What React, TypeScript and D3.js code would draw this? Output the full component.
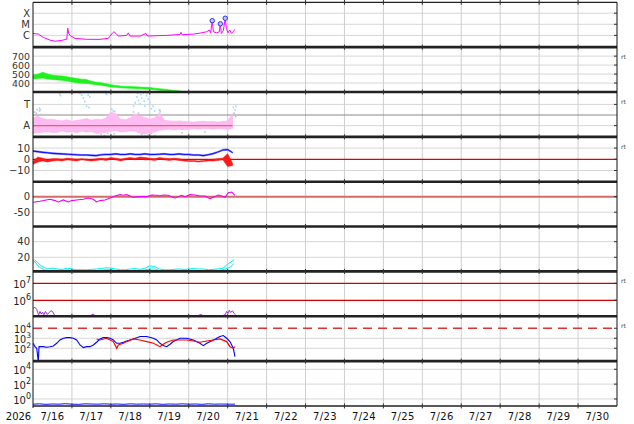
import * as d3 from "d3";

const WIDTH = 634;
const HEIGHT = 424;
const LEFT = 33;
const RIGHT = 617;
const TOP = 2.3;
const PANEL_H = 44.85;
const NPANELS = 9;

const START = Date.UTC(2026, 6, 16);
const END = Date.UTC(2026, 6, 31);

const yearLabel = "2026";
const dayLabels = ["7/16", "7/17", "7/18", "7/19", "7/20", "7/21", "7/22", "7/23", "7/24", "7/25", "7/26", "7/27", "7/28", "7/29", "7/30"];

// common 3-hourly grid (hours after 7/16 00:00 UTC)
const hours3 = [0, 3, 6, 9, 12, 15, 18, 21, 24, 27, 30, 33, 36, 39, 42, 45, 48, 51, 54, 57, 60, 63, 66, 69, 72, 75, 78, 81, 84, 87, 90, 93, 96, 99, 102, 105, 108, 111, 114, 117, 120, 123];

// panel 1: x-ray flux
const xrayHours = [0, 3.3, 6.4, 10.5, 13.6, 17.7, 20.8, 21.4, 22, 23.2, 25.9, 33, 41.3, 46.4, 49.1, 49.9, 51.2, 52.6, 57.8, 58.8, 59.8, 66, 69.7, 70.5, 82.4, 90.6, 91.2, 92, 98.8, 103, 107, 108.7, 109.5, 110.5, 111.2, 113.2, 114.8, 115.5, 116.1, 117.3, 118.5, 119.2, 120.2, 121.3, 122.3, 123.3, 124.5];
const xrayFlux = [1.5e-6, 1.3e-6, 6.6e-7, 3.7e-7, 3.0e-7, 3.5e-7, 4.6e-7, 4.4e-6, 1.5e-6, 8.7e-7, 5.4e-7, 4.4e-7, 4.4e-7, 5.4e-7, 1.7e-6, 2.1e-6, 1.5e-6, 8.7e-7, 1.0e-6, 1.7e-6, 8.7e-7, 8.7e-7, 1.5e-6, 8.7e-7, 1.0e-6, 1.2e-6, 1.9e-6, 1.15e-6, 1.3e-6, 1.6e-6, 2.1e-6, 3.0e-6, 1.7e-6, 2.1e-5, 2.1e-6, 1.7e-6, 2.1e-6, 1.1e-5, 1.5e-6, 2.6e-6, 3.5e-5, 4.4e-6, 1.7e-6, 3.0e-6, 1.5e-6, 2.1e-6, 3.5e-6];
const flareHours = [110.5, 115.5, 118.5];
const flareFlux = [2.1e-5, 1.1e-5, 3.5e-5];

// panel 2: solar wind speed envelope
const speedLo = [445, 450, 455, 445, 440, 435, 430, 422, 412, 402, 398, 395, 388, 382, 376, 366, 357, 352, 347, 344, 341, 339, 336, 333, 331, 326, 319, 313, 307, 302, 298, 290, 285, 282, 280, 278, 275, 272, 270, 270, 268, 275];
const speedHi = [490, 498, 520, 500, 488, 482, 478, 470, 460, 450, 442, 438, 420, 410, 402, 392, 382, 372, 366, 362, 360, 358, 355, 352, 350, 343, 337, 331, 324, 318, 312, 303, 297, 295, 293, 291, 289, 287, 285, 284, 287, 302];

// panel 3: IMF direction (toward / away)
const phiLo = [70, 75, 80, 85, 75, 80, 90, 80, 85, 75, 90, 80, 85, 70, 75, 80, 90, 95, 80, 85, 90, 90, 70, 65, 75, 80, 95, 100, 105, 100, 105, 100, 105, 110, 105, 110, 108, 105, 110, 108, 105, 110];
const phiHi = [200, 215, 195, 185, 190, 180, 175, 185, 170, 180, 185, 195, 180, 190, 185, 200, 250, 235, 190, 185, 200, 235, 215, 205, 190, 200, 245, 180, 175, 170, 175, 170, 168, 165, 170, 172, 168, 170, 165, 170, 175, 235];
const phiGrayHours = [1, 2, 2.6, 4, 5, 42, 44, 46, 48, 48.5, 50, 50.5, 62, 63, 65, 67, 69, 71, 73, 75, 78, 92, 106, 124, 125];
const phiGray = [250, 240, 270, 260, 230, 60, 50, 70, 55, 235, 65, 215, 250, 225, 240, 60, 45, 55, 70, 50, 264, 75, 80, 240, 210];
const phiBlueHours = [4, 4.5, 16.5, 17, 29, 30, 31, 32, 33, 34, 34.5, 35, 45, 45.5, 48.5, 49.5, 50.5, 62, 63, 64, 64.5, 65, 66, 66.5, 67, 68, 68.5, 69, 70, 70.5, 71, 72, 73, 74, 75, 78, 78.5, 123.5, 124.5, 125];
const phiBlue = [285, 270, 405, 390, 410, 395, 370, 340, 300, 395, 290, 380, 410, 400, 275, 260, 255, 300, 330, 380, 410, 350, 320, 400, 370, 410, 345, 300, 390, 410, 360, 330, 280, 300, 260, 270, 255, 290, 270, 300];

// panel 4: Bt and Bz envelopes
const btLo = [6.8, 6.3, 5.7, 5.3, 4.8, 4.5, 4.3, 4, 3.8, 3.5, 3.3, 3.3, 3, 2.8, 3.5, 3.8, 3.8, 4.3, 3.8, 3.8, 4.3, 3.8, 3.8, 4.3, 3.8, 3.8, 4, 4.3, 3.8, 3.8, 4.3, 3.8, 3.8, 3.3, 3.3, 2.8, 3.5, 4.5, 6, 7.8, 8, 5.5];
const btHi = [7.8, 7.3, 6.7, 6.3, 5.8, 5.5, 5.3, 5, 4.8, 4.5, 4.3, 4.3, 4, 3.8, 4.5, 4.8, 4.8, 5.3, 4.8, 4.8, 5.3, 4.8, 4.8, 5.3, 4.8, 4.8, 5, 5.3, 4.8, 4.8, 5.3, 4.8, 4.8, 4.3, 4.3, 3.8, 4.5, 5.5, 7, 8.8, 9.2, 6.5];
const bzLo = [-4.5, -2.5, -1.5, -2.5, -1.5, -1, -1.5, -0.5, -1, -1.5, -0.5, -1, -1.5, -1, -0.5, -1, 0, -0.5, -1.5, -0.5, 0, -0.5, 0, -0.5, -0.5, -1, 0, -0.5, -1, -0.5, -1, -1.5, -2, -2, -2.5, -2, -1.5, -1.5, -1, -0.5, -6.5, -5.5];
const bzHi = [-2, 2, 1, -0.5, 0.5, 0.5, 0, 1, 0.5, 0, 0.5, 0, -0.5, 0.5, 1, 0.5, 1.5, 1, 0, 1, 1.5, 1, 2, 1.5, 1, 0.5, 1.5, 1, 0.5, 1, 0.5, -0.5, -1, -1, -1.5, -1, -0.5, 0, 0.5, 1, 5, -3.5];

// panel 5: Dst-like index
const dstHours = [0.2, 4.3, 10.5, 13.6, 15.6, 18.7, 21.8, 23.8, 26.9, 31, 34.1, 37.2, 39.2, 41.3, 44.4, 47.5, 50.6, 53.6, 55.7, 57.8, 59.8, 61.8, 66, 70.1, 73.1, 76.3, 78.3, 80.3, 83.4, 85.5, 87.5, 89.6, 91.7, 93.7, 96.8, 99.9, 103, 106, 109.1, 111.2, 114.2, 116.3, 118.4, 120.4, 122.5, 123.5, 124.5];
const dstValues = [-18, -15, -8.5, -12.7, -17, -10.6, -17, -12.7, -10.6, -8.5, -4.2, -8.5, -17, -12.7, -10.6, -4.2, 2.2, 6.5, 4.3, 6.5, 2.2, -2, 0, 0, 5.4, 4.3, 2.2, 5.4, 4.3, 0, -4.2, 0, 4.3, 0, 6.5, 5.4, 2.2, 2.2, -6.3, -2, 5.4, 2.2, -2, 12.9, 15, 8.6, 4.3];

// panel 6: density envelope
const denHours = [0, 1, 3, 5, 7, 9, 12, 15, 18, 21, 24, 27, 30, 33, 36, 39, 42, 45, 48, 51, 54, 57, 60, 63, 66, 69, 72, 75, 78, 81, 84, 87, 90, 93, 96, 99, 102, 105, 108, 111, 114, 117, 120, 122, 124];
const denLo = [12, 15, 9, 6, 4, 3, 3, 3, 3, 4, 3, 2.5, 2.5, 2.5, 3, 3, 3.5, 4, 4, 3, 3, 2.5, 3, 3, 3, 4, 5, 5, 3, 2.5, 2.5, 3, 3, 3, 3, 3.5, 3, 3, 2.5, 3, 3, 4, 6, 8, 12];
const denHi = [15, 17, 13, 9, 7, 5, 6, 5, 4.5, 6, 5, 4, 4, 4, 4.5, 5, 5.5, 6.5, 6, 5, 4, 4, 5, 5.5, 4.5, 6, 9, 8, 5, 4, 4, 4.5, 5, 4.5, 5, 5.5, 5, 5, 4, 4.5, 5, 6, 11, 14, 17];

// panel 7: purple flux
const p7Hours = [0.2, 1.2, 2.3, 2.9, 3.5, 4.3, 5.1, 5.9, 6.7, 7.7, 8.8, 10, 11, 12, 12.9, 13.8, 15, 30, 36.2, 37.2, 38.2, 50, 95, 103, 104, 105, 110, 118.4, 119.4, 120.2, 121, 121.8, 122.9, 124, 124.7];
const p7Values = [3.4e5, 3.9e5, 2.9e5, 1.9e5, 1.4e5, 2.2e5, 1.55e5, 2.0e5, 1.4e5, 2.2e5, 1.45e5, 1.9e5, 2.4e5, 2.2e5, 1.55e5, 1.1e5, 8e4, 7e4, 1.4e5, 1.55e5, 1.15e5, 7e4, 7e4, 1.4e5, 1.45e5, 1.15e5, 8e4, 1.4e5, 2.2e5, 1.7e5, 2.6e5, 1.9e5, 2.4e5, 1.7e5, 1.4e5];

// panel 8: two channels
const p8BlueHours = [0.2, 1.2, 2.3, 2.9, 3.3, 3.7, 4.3, 6.4, 8.4, 10.5, 12.5, 14.6, 16.6, 18.7, 20.8, 22.8, 24.9, 26.9, 29, 31, 33.1, 35.1, 37.2, 39.2, 41.3, 43.3, 45.4, 47.5, 49.5, 51.6, 53.6, 55.7, 57.8, 61.8, 66, 70.1, 74.2, 76.3, 78.3, 80.3, 82.4, 84.5, 86.5, 90.6, 94.7, 98.8, 102.9, 105, 107.1, 111.2, 115.3, 117.3, 119.4, 121.4, 123.5, 124.5];
const p8Blue = [316, 145, 100, 14.5, 4.6, 145, 145, 145, 126, 145, 170, 316, 676, 1000, 1170, 1170, 1000, 676, 214, 117, 145, 145, 214, 400, 850, 1170, 1170, 1000, 676, 316, 316, 400, 537, 850, 1480, 1480, 1000, 676, 316, 186, 145, 251, 468, 1000, 1000, 676, 316, 186, 316, 676, 1480, 1860, 1000, 468, 100, 14.5];
const p8RedHours = [39.2, 41.3, 45.4, 49.5, 51.6, 52.6, 55.7, 57.8, 61.8, 66, 70.1, 74.2, 78.3, 80.3, 82.4, 86.5, 90.6, 94.7, 98.8, 102.9, 107.1, 111.2, 115.3, 119.4, 121.4, 123.5, 124.5];
const p8Red = [850, 676, 1000, 468, 100, 214, 316, 468, 850, 676, 468, 316, 145, 251, 400, 676, 676, 676, 537, 400, 537, 676, 850, 468, 145, 100, 145];

// panel 9: low flux
const p9Hours = [0, 4, 8, 12, 16, 20, 24, 28, 32, 36, 40, 44, 48, 52, 56, 60, 64, 68, 72, 76, 80, 84, 88, 92, 96, 100, 104, 108, 112, 116, 120, 124.5];
const p9Values = [0.2, 0.22, 0.19, 0.21, 0.2, 0.23, 0.2, 0.19, 0.22, 0.21, 0.2, 0.22, 0.2, 0.21, 0.19, 0.22, 0.2, 0.21, 0.2, 0.22, 0.19, 0.21, 0.2, 0.22, 0.2, 0.21, 0.19, 0.22, 0.2, 0.21, 0.2, 0.2];

const py = (i: number) => TOP + i * PANEL_H;
const x = d3.scaleUtc().domain([START, END]).range([LEFT, RIGHT]);
const hx = (h: number) => x(START + h * 3600000);

const yX = d3.scaleLog().domain([8.7e-8, 9.55e-4]).range([py(1), py(0)]);
const ySpd = d3.scaleLinear().domain([300, 800]).range([py(2), py(1)]);
const yPhi = d3.scaleLinear().domain([40, 420]).range([py(3), py(2)]);
const yB = d3.scaleLinear().domain([-20, 20]).range([py(4), py(3)]);
const yDst = d3.scaleLinear().domain([-96, 48]).range([py(5), py(4)]);
const yDen = d3.scaleLinear().domain([1.9, 59.4]).range([py(6), py(5)]);
const y7 = d3.scaleLog().domain([1.148e5, 5.01e7]).range([py(7), py(6)]);
const y8 = d3.scaleLog().domain([5.25, 1.585e5]).range([py(8), py(7)]);
const y9 = d3.scaleLog().domain([0.115, 1.26e5]).range([py(9), py(8)]);

type Tick = { v: number; label: string; sup?: string };
const panelTicks: { scale: any; ticks: Tick[]; grid: number[]; size: number }[] = [
  { scale: yX, ticks: [{ v: 1e-4, label: "X" }, { v: 1e-5, label: "M" }, { v: 1e-6, label: "C" }], grid: [1e-4, 1e-5, 1e-6], size: 10 },
  { scale: ySpd, ticks: [700, 600, 500, 400].map((v) => ({ v, label: String(v) })), grid: [700, 600, 500, 400], size: 9.4 },
  { scale: yPhi, ticks: [{ v: 315, label: "T" }, { v: 135, label: "A" }], grid: [315, 135], size: 10 },
  { scale: yB, ticks: [{ v: 10, label: "10" }, { v: 0, label: "0" }, { v: -10, label: "\u221210" }], grid: [10, -10], size: 10 },
  { scale: yDst, ticks: [{ v: 0, label: "0" }, { v: -50, label: "-50" }], grid: [-50], size: 10 },
  { scale: yDen, ticks: [{ v: 40, label: "40" }, { v: 20, label: "20" }], grid: [40, 20], size: 10 },
  { scale: y7, ticks: [{ v: 1e7, label: "10", sup: "7" }, { v: 1e6, label: "10", sup: "6" }], grid: [], size: 10 },
  { scale: y8, ticks: [{ v: 1e4, label: "10", sup: "4" }, { v: 1e3, label: "10", sup: "3" }, { v: 1e2, label: "10", sup: "2" }], grid: [1e3, 1e2], size: 9.6 },
  { scale: y9, ticks: [{ v: 1e4, label: "10", sup: "4" }, { v: 1e2, label: "10", sup: "2" }, { v: 1, label: "10", sup: "0" }], grid: [1e4, 1e2, 1], size: 10 },
];
const rtPanels = [1, 2, 3, 6, 7];

const lineOf = (hs: number[], vs: number[], ys: any) =>
  d3.line<number>().x((_, i) => hx(hs[i])).y((v) => ys(v))(vs) || "";
const areaOf = (hs: number[], lo: number[], hi: number[], ys: any) =>
  d3.area<number>().x((_, i) => hx(hs[i])).y0((_, i) => ys(lo[i])).y1((_, i) => ys(hi[i]))(lo) || "";

const FONT = "DejaVu Sans, Verdana, sans-serif";

export default function App() {
  const dayLines = d3.range(1, 15).map((d) => x(START + d * 86400000));
  return (
    <svg width={WIDTH} height={HEIGHT} style={{ position: "absolute", left: 0, top: 0, background: "#fff" }}>
      <defs>
        {d3.range(NPANELS).map((i) => (
          <clipPath id={`clip${i}`} key={i}>
            <rect x={LEFT} y={py(i)} width={RIGHT - LEFT} height={PANEL_H} />
          </clipPath>
        ))}
      </defs>
      <rect x={0} y={0} width={WIDTH} height={HEIGHT} fill="#fff" />

      {/* horizontal grid */}
      {panelTicks.map((p, i) =>
        p.grid.map((g, j) => (
          <line key={`g${i}-${j}`} x1={LEFT} x2={RIGHT} y1={p.scale(g)} y2={p.scale(g)} stroke="#d6d6d6" strokeWidth={1} />
        ))
      )}
      {/* vertical grid */}
      {dayLines.map((dx, i) => (
        <line key={`v${i}`} x1={dx} x2={dx} y1={py(0)} y2={py(9)} stroke="#cfcfcf" strokeWidth={1} />
      ))}
      <line x1={LEFT} x2={RIGHT} y1={yPhi(225)} y2={yPhi(225)} stroke="#8a8a8a" strokeWidth={1} />

      {/* reference lines */}
      <line x1={LEFT} x2={RIGHT} y1={yB(0)} y2={yB(0)} stroke="#e00000" strokeWidth={1.2} />
      <line x1={LEFT} x2={RIGHT} y1={yDst(0)} y2={yDst(0)} stroke="#d46a6a" strokeWidth={2} />
      <line x1={LEFT} x2={RIGHT} y1={y7(1e7)} y2={y7(1e7)} stroke="#cc0000" strokeWidth={1.2} />
      <line x1={LEFT} x2={RIGHT} y1={y7(1e6)} y2={y7(1e6)} stroke="#cc0000" strokeWidth={1.2} />
      <line x1={LEFT} x2={RIGHT} y1={y8(1e4)} y2={y8(1e4)} stroke="#dd3333" strokeWidth={1.4} strokeDasharray="9,6" />

      {/* panel 1 */}
      <g clipPath="url(#clip0)">
        <path d={lineOf(xrayHours, xrayFlux, yX)} fill="none" stroke="#ff00ff" strokeWidth={1} />
        {flareHours.map((h, i) => (
          <circle key={i} cx={hx(h)} cy={yX(flareFlux[i])} r={2.2} fill="#c8c8ff" stroke="#2a2aff" strokeWidth={1} />
        ))}
      </g>
      {/* panel 2 */}
      <g clipPath="url(#clip1)">
        <path d={areaOf(hours3, speedLo, speedHi, ySpd)} fill="#22ee22" stroke="#00ff00" strokeWidth={0.6} />
      </g>
      {/* panel 3 */}
      <g clipPath="url(#clip2)">
        {phiGrayHours.map((h, i) => (
          <rect key={i} x={hx(h) - 0.8} y={yPhi(phiGray[i]) - 0.8} width={1.6} height={1.6} fill="#c4c4c4" />
        ))}
        <path d={areaOf(hours3, phiLo, phiHi, yPhi)} fill="#ffbcf2" stroke="#ffaaee" strokeWidth={0.6} />
        <line x1={hx(0)} x2={hx(123)} y1={yPhi(135)} y2={yPhi(135)} stroke="#f25a72" strokeWidth={1.2} />
        {phiBlueHours.map((h, i) => (
          <rect key={i} x={hx(h) - 0.8} y={yPhi(phiBlue[i]) - 0.8} width={1.6} height={1.8} fill="#9fdcff" />
        ))}
      </g>
      {/* panel 4 */}
      <g clipPath="url(#clip3)">
        <path d={areaOf(hours3, btLo, btHi, yB)} fill="#1f1fff" stroke="#0000ff" strokeWidth={0.5} />
        <path d={areaOf(hours3, bzLo, bzHi, yB)} fill="#ff1a1a" stroke="#ff0000" strokeWidth={0.5} />
      </g>
      {/* panel 5 */}
      <g clipPath="url(#clip4)">
        <path d={lineOf(dstHours, dstValues, yDst)} fill="none" stroke="#ee00ee" strokeWidth={1.1} />
      </g>
      {/* panel 6 */}
      <g clipPath="url(#clip5)">
        <path d={lineOf(denHours, denLo, yDen)} fill="none" stroke="#00f0f0" strokeWidth={1} />
        <path d={lineOf(denHours, denHi, yDen)} fill="none" stroke="#00f0f0" strokeWidth={1} />
      </g>
      {/* panel 7 */}
      <g clipPath="url(#clip6)">
        <path d={lineOf(p7Hours, p7Values, y7)} fill="none" stroke="#9b30d0" strokeWidth={1} />
      </g>
      {/* panel 8 */}
      <g clipPath="url(#clip7)">
        <path d={lineOf(p8BlueHours, p8Blue, y8)} fill="none" stroke="#0000ff" strokeWidth={1.1} />
        <path d={lineOf(p8RedHours, p8Red, y8)} fill="none" stroke="#ff0000" strokeWidth={1.2} />
      </g>
      {/* panel 9 */}
      <g clipPath="url(#clip8)">
        <path d={lineOf(p9Hours, p9Values, y9)} fill="none" stroke="#1010ff" strokeWidth={1} />
      </g>

      {/* frame */}
      <line x1={LEFT} x2={RIGHT} y1={py(0)} y2={py(0)} stroke="#222" strokeWidth={1.2} />
      {d3.range(1, NPANELS).map((i) => (
        <line key={`s${i}`} x1={LEFT} x2={RIGHT} y1={py(i)} y2={py(i)} stroke="#222" strokeWidth={2.6} />
      ))}
      <line x1={LEFT} x2={RIGHT} y1={py(9)} y2={py(9)} stroke="#222" strokeWidth={1.6} />
      <line x1={LEFT} x2={LEFT} y1={py(0)} y2={py(9) + 2} stroke="#111" strokeWidth={1} />
      <line x1={RIGHT} x2={RIGHT} y1={py(0)} y2={py(9)} stroke="#111" strokeWidth={1} />
      {d3.range(0, NPANELS + 1).map((i) =>
        dayLines.map((dx, j) => (
          <line key={`t${i}-${j}`} x1={dx} x2={dx} y1={py(i) - 2.5} y2={py(i) + 2.5} stroke="#333" strokeWidth={1} />
        ))
      )}
      {panelTicks.map((p, i) =>
        p.ticks.map((t, j) => (
          <line key={`rt${i}-${j}`} x1={RIGHT - 3} x2={RIGHT} y1={p.scale(t.v)} y2={p.scale(t.v)} stroke="#333" strokeWidth={1} />
        ))
      )}

      {/* y labels */}
      {panelTicks.map((p, i) =>
        p.ticks.map((t, j) =>
          t.sup ? (
            <text key={`l${i}-${j}`} x={31} y={p.scale(t.v) + 5} textAnchor="end" fontFamily={FONT} fontSize={p.size} fill="#222">
              {t.label}
              <tspan dy={-5} fontSize={p.size - 2}>{t.sup}</tspan>
            </text>
          ) : (
            <text key={`l${i}-${j}`} x={30} y={p.scale(t.v) + 3.6} textAnchor="end" fontFamily={FONT} fontSize={p.size} fill="#333">
              {t.label}
            </text>
          )
        )
      )}
      {rtPanels.map((i) => (
        <text key={`r${i}`} x={621} y={py(i) + 12} fontFamily={FONT} fontSize={6} fill="#444">rt</text>
      ))}

      {/* x labels */}
      <text x={18.5} y={420} textAnchor="middle" fontFamily={FONT} fontSize={10} fill="#111">{yearLabel}</text>
      {dayLabels.map((d, i) => (
        <text key={d} x={x(START + (i + 0.5) * 86400000)} y={420} textAnchor="middle" fontFamily={FONT} fontSize={10} fill="#111" letterSpacing={0.4}>
          {d}
        </text>
      ))}
    </svg>
  );
}
